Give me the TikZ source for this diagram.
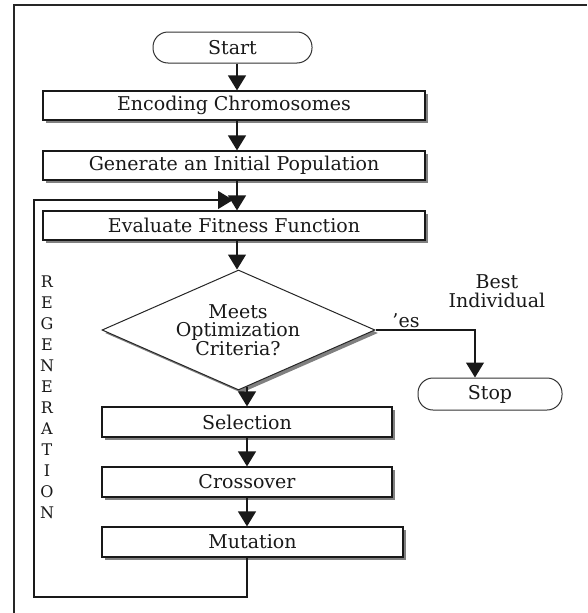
\documentclass[tikz,border=0pt]{standalone}
\usepackage{fontspec}
\setmainfont{DejaVu Serif}
\usetikzlibrary{arrows.meta,shapes.geometric,shadows}
\begin{document}
\begin{tikzpicture}[x=1pt,y=-1pt,
  shad/.style={drop shadow={shadow xshift=3pt,shadow yshift=-3pt,fill=black!50,opacity=1}},
  box/.style={draw=black!90,line width=1.2pt,fill=white,minimum height=29pt,inner sep=0pt,
    font=\fontsize{19}{20}\selectfont,text=black!90,shad},
  term/.style={draw=black!80,line width=1pt,fill=white,rounded corners=15pt,minimum height=31pt,
    inner sep=0pt,font=\fontsize{19}{20}\selectfont,text=black!90},
  arr/.style={draw=black!90,line width=1.2pt,-{Triangle[width=18pt,length=15pt]}},
  lab/.style={font=\fontsize{19}{18.5}\selectfont,text=black!90,inner sep=0pt,align=center},
  letter/.style={font=\fontsize{16}{16}\selectfont,text=black!90,inner sep=0pt}
]
\useasboundingbox (0,0) rectangle (587,613);
% frame
\draw[line width=1.8pt,black!85] (14,613) -- (14,5) -- (587,5);
% axes for the vertical connectors
\coordinate (axis) at (237,0);
\coordinate (axistwo) at (247,0);
\coordinate (stopaxis) at (475,0);
\coordinate (loopBL) at (34,597);
\coordinate (loopTL) at (34,200);
\coordinate (fbEnd) at (233,200);
% nodes
\node[term,minimum width=159pt] (start) at (232.5,47.5) {Start};
\node[box,minimum width=382pt] (enc) at (234,105.5) {Encoding Chromosomes};
\node[box,minimum width=382pt] (gen) at (234,165.5) {Generate an Initial Population};
\node[box,minimum width=382pt] (eval) at (234,225.5) {Evaluate Fitness Function};
\node[diamond,draw=black!85,line width=1pt,fill=white,minimum width=273pt,minimum height=120pt,
  inner sep=0pt,shad] (dia) at (238.5,330) {};
\node[lab] (diat) at (238,330) {Meets\\Optimization\\Criteria?};
\node[box,minimum width=290pt,minimum height=30pt] (sel) at (247,422) {Selection};
\node[box,minimum width=290pt,minimum height=30pt] (cro) at (247,482) {Crossover};
\node[box,minimum width=301pt,minimum height=30pt] (mut) at (252.5,542) {Mutation};
\node[term,minimum width=144pt,minimum height=32pt] (stop) at (490,394) {Stop};
\node[lab] (best) at (497,291) {Best\\Individual};
\node[lab] (yes) at (406,321) {’es};
\foreach \l [count=\i] in {R,E,G,E,N,E,R,A,T,I,O,N}
  \node[letter] (rg\i) at (47,{282+21*(\i-1)}) {\l};
% connectors
\draw[arr] (start.south -| axis) -- (enc.north -| axis);
\draw[arr] (enc.south -| axis) -- (gen.north -| axis);
\draw[arr] (gen.south -| axis) -- (eval.north -| axis);
\draw[arr] (eval.south -| axis) -- (dia.north -| axis);
\draw[arr] ([yshift=4pt]dia.south -| axistwo) -- (sel.north -| axistwo);
\draw[arr] (sel.south -| axistwo) -- (cro.north -| axistwo);
\draw[arr] (cro.south -| axistwo) -- (mut.north -| axistwo);
\draw[arr] (dia.east) -- (dia.east -| stopaxis) -- (stop.north -| stopaxis);
\draw[arr] (mut.south -| axistwo) -- (axistwo |- loopBL) -- (loopBL) -- (loopTL) -- (fbEnd);
\end{tikzpicture}
\end{document}
